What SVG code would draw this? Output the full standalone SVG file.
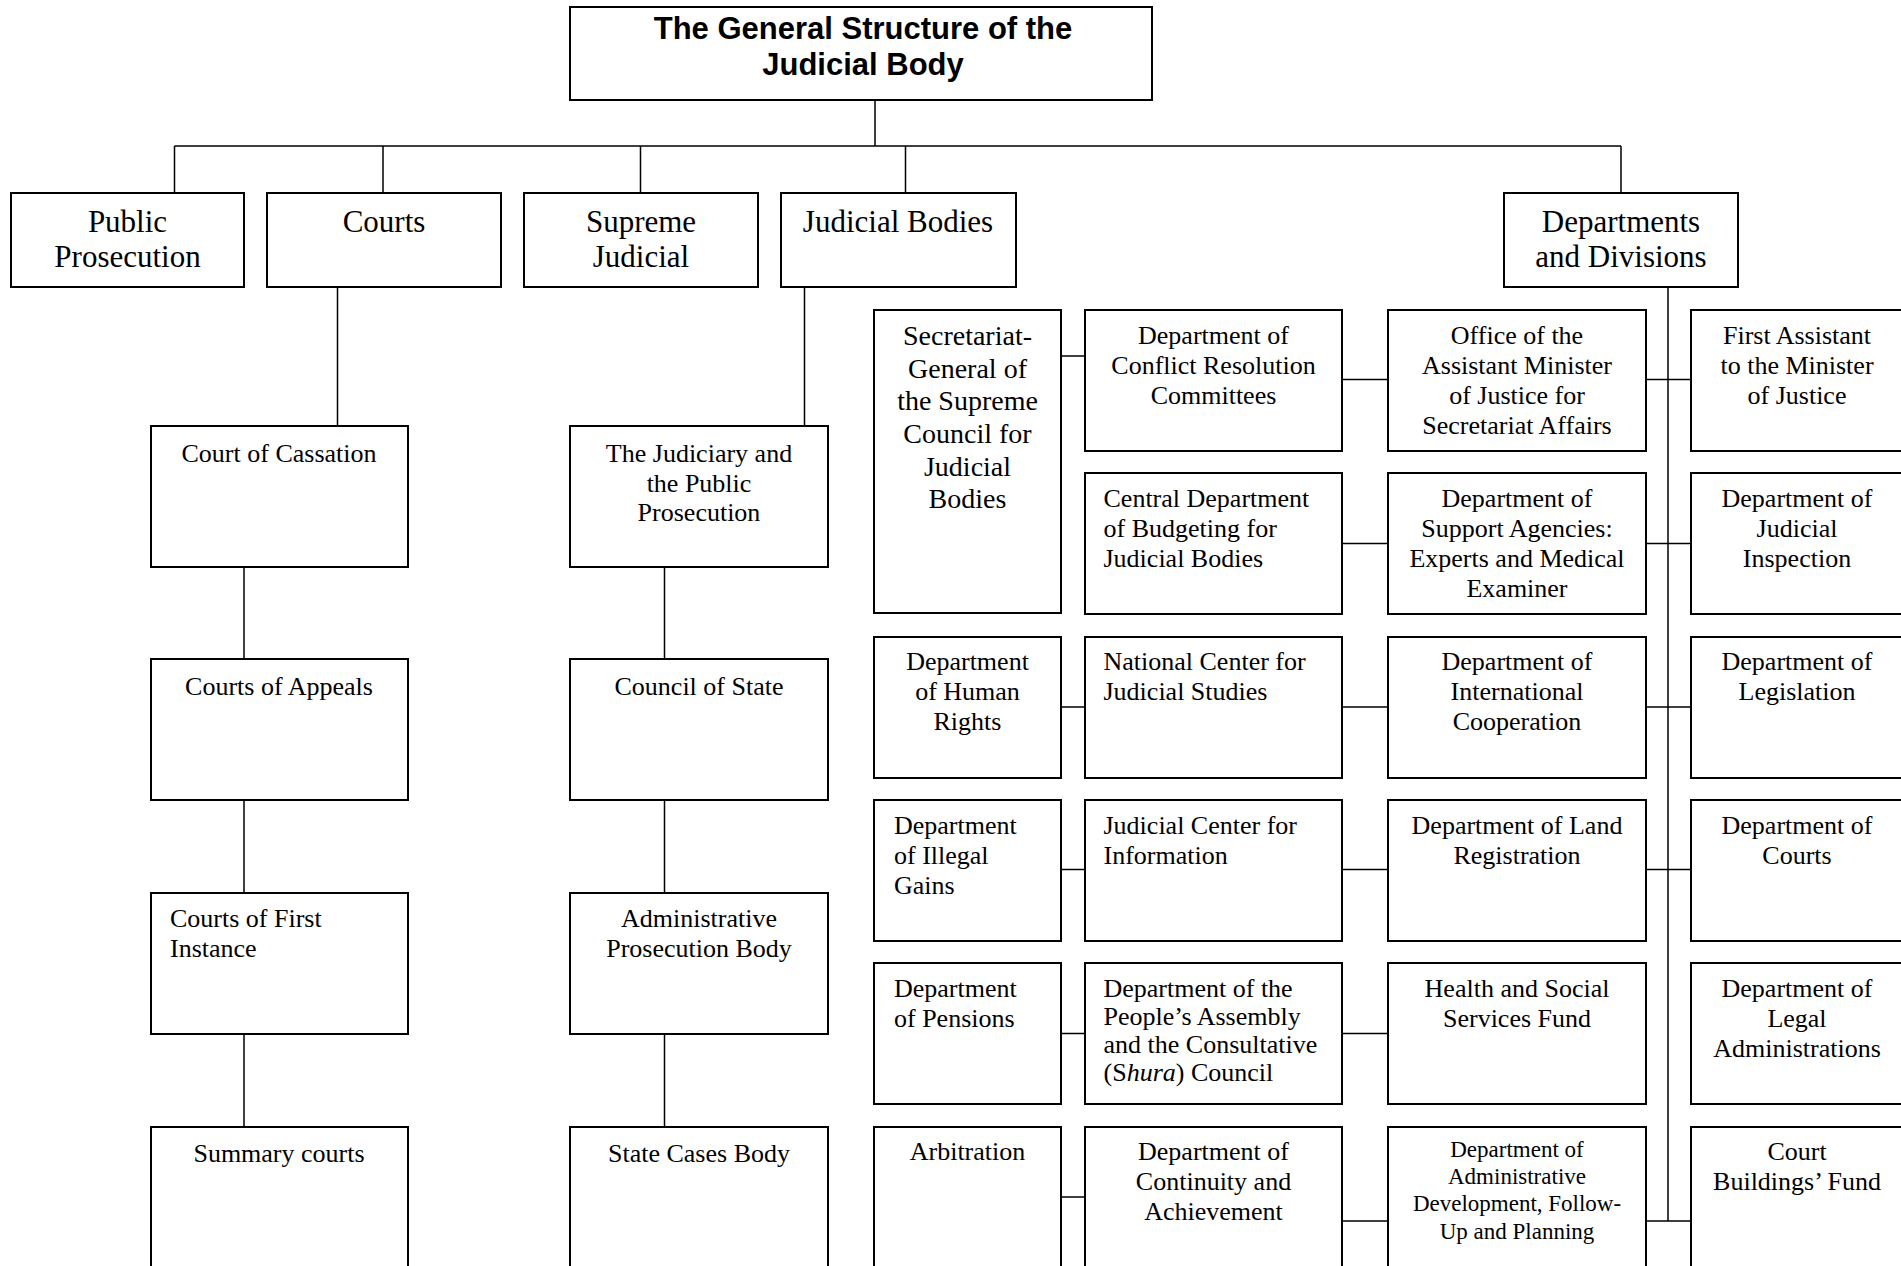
<svg xmlns="http://www.w3.org/2000/svg" width="1901" height="1266" viewBox="0 0 1901 1266">
<style>
.box{fill:#fff;stroke:#000;stroke-width:2}
.ln{fill:none;stroke:#000;stroke-width:1.5}
text{font-family:"Liberation Serif","Times New Roman",serif;font-size:26px;fill:#000}
.c{text-anchor:middle}
.l1{font-size:31px}
.sec{font-size:28px}
.sm{font-size:23px}
.title{font-family:"Liberation Sans",Arial,sans-serif;font-weight:bold;font-size:31px;text-anchor:middle}
</style>
<rect width="1901" height="1266" fill="#fff"/>
<g id="connectors">
<path class="ln" d="M875 100V146M174.5 146H1621M174.5 146V193M383 146V193M640.5 146V193M905.5 146V193M1621 146V193"/>
<path class="ln" d="M337.5 287V426M244 567V659M244 800V893M244 1034V1127"/>
<path class="ln" d="M804.5 287V426M664.5 567V659M664.5 800V893M664.5 1034V1127"/>
<path class="ln" d="M1668 287V1221"/>
<path class="ln" d="M1061 356H1085M1342 379.5H1388M1646 379.5H1691"/>
<path class="ln" d="M1342 543.5H1388M1646 543.5H1691"/>
<path class="ln" d="M1061 707H1085M1342 707H1388M1646 707H1691"/>
<path class="ln" d="M1061 869.5H1085M1342 869.5H1388M1646 869.5H1691"/>
<path class="ln" d="M1061 1033.5H1085M1342 1033.5H1388"/>
<path class="ln" d="M1061 1197H1085M1342 1221H1388M1646 1221H1691"/>
</g>
<g id="title"><rect class="box" x="570" y="7" width="582" height="93"/>
<text class="title" x="863" y="39">The General Structure of the</text>
<text class="title" x="863" y="75">Judicial Body</text></g>
<g id="public-prosecution"><rect class="box" x="11" y="193" width="233" height="94"/>
<text class="c l1" x="127.5" y="232">Public</text><text class="c l1" x="127.5" y="267">Prosecution</text></g>
<g id="courts"><rect class="box" x="267" y="193" width="234" height="94"/>
<text class="c l1" x="384" y="232">Courts</text></g>
<g id="supreme-judicial"><rect class="box" x="524" y="193" width="234" height="94"/>
<text class="c l1" x="641" y="232">Supreme</text><text class="c l1" x="641" y="267">Judicial</text></g>
<g id="judicial-bodies"><rect class="box" x="781" y="193" width="235" height="94"/>
<text class="c l1" x="898" y="232">Judicial Bodies</text></g>
<g id="departments"><rect class="box" x="1504" y="193" width="234" height="94"/>
<text class="c l1" x="1621" y="232">Departments</text><text class="c l1" x="1621" y="267">and Divisions</text></g>

<g id="court-of-cassation"><rect class="box" x="151" y="426" width="257" height="141"/>
<text class="c" x="279" y="462">Court of Cassation</text></g>
<g id="courts-of-appeals"><rect class="box" x="151" y="659" width="257" height="141"/>
<text class="c" x="279" y="695">Courts of Appeals</text></g>
<g id="courts-first-instance"><rect class="box" x="151" y="893" width="257" height="141"/>
<text x="170" y="927">Courts of First</text><text x="170" y="957">Instance</text></g>
<g id="summary-courts"><rect class="box" x="151" y="1127" width="257" height="150"/>
<text class="c" x="279" y="1162">Summary courts</text></g>

<g id="judiciary-public-prosecution"><rect class="box" x="570" y="426" width="258" height="141"/>
<text class="c" x="699" y="462">The Judiciary and</text><text class="c" x="699" y="492">the Public</text><text class="c" x="699" y="521">Prosecution</text></g>
<g id="council-of-state"><rect class="box" x="570" y="659" width="258" height="141"/>
<text class="c" x="699" y="695">Council of State</text></g>
<g id="administrative-prosecution"><rect class="box" x="570" y="893" width="258" height="141"/>
<text class="c" x="699" y="927">Administrative</text><text class="c" x="699" y="957">Prosecution Body</text></g>
<g id="state-cases-body"><rect class="box" x="570" y="1127" width="258" height="150"/>
<text class="c" x="699" y="1162">State Cases Body</text></g>

<g id="secretariat-general"><rect class="box" x="874" y="310" width="187" height="303"/>
<text class="c sec" x="967.5" y="345">Secretariat-</text><text class="c sec" x="967.5" y="377.7">General of</text><text class="c sec" x="967.5" y="410.3">the Supreme</text><text class="c sec" x="967.5" y="443">Council for</text><text class="c sec" x="967.5" y="475.7">Judicial</text><text class="c sec" x="967.5" y="508.3">Bodies</text></g>
<g id="human-rights"><rect class="box" x="874" y="637" width="187" height="141"/>
<text class="c" x="967.5" y="670">Department</text><text class="c" x="967.5" y="700">of Human</text><text class="c" x="967.5" y="730">Rights</text></g>
<g id="illegal-gains"><rect class="box" x="874" y="800" width="187" height="141"/>
<text x="894" y="833.5">Department</text><text x="894" y="863.5">of Illegal</text><text x="894" y="893.5">Gains</text></g>
<g id="pensions"><rect class="box" x="874" y="963" width="187" height="141"/>
<text x="894" y="997">Department</text><text x="894" y="1027">of Pensions</text></g>
<g id="arbitration"><rect class="box" x="874" y="1127" width="187" height="150"/>
<text class="c" x="967.5" y="1160">Arbitration</text></g>

<g id="conflict-resolution"><rect class="box" x="1085" y="310" width="257" height="141"/>
<text class="c" x="1213.5" y="343.5">Department of</text><text class="c" x="1213.5" y="373.5">Conflict Resolution</text><text class="c" x="1213.5" y="403.5">Committees</text></g>
<g id="budgeting"><rect class="box" x="1085" y="473" width="257" height="141"/>
<text x="1103.5" y="507">Central Department</text><text x="1103.5" y="537">of Budgeting for</text><text x="1103.5" y="567">Judicial Bodies</text></g>
<g id="national-center"><rect class="box" x="1085" y="637" width="257" height="141"/>
<text x="1103.5" y="670">National Center for</text><text x="1103.5" y="700">Judicial Studies</text></g>
<g id="judicial-center-information"><rect class="box" x="1085" y="800" width="257" height="141"/>
<text x="1103.5" y="833.5">Judicial Center for</text><text x="1103.5" y="863.5">Information</text></g>
<g id="peoples-assembly"><rect class="box" x="1085" y="963" width="257" height="141"/>
<text x="1103.5" y="997">Department of the</text><text x="1103.5" y="1025">People’s Assembly</text><text x="1103.5" y="1053">and the Consultative</text><text x="1103.5" y="1081">(S<tspan font-style="italic">hura</tspan>) Council</text></g>
<g id="continuity"><rect class="box" x="1085" y="1127" width="257" height="150"/>
<text class="c" x="1213.5" y="1160">Department of</text><text class="c" x="1213.5" y="1190">Continuity and</text><text class="c" x="1213.5" y="1220">Achievement</text></g>

<g id="assistant-minister-office"><rect class="box" x="1388" y="310" width="258" height="141"/>
<text class="c" x="1517" y="343.5">Office of the</text><text class="c" x="1517" y="373.5">Assistant Minister</text><text class="c" x="1517" y="403.5">of Justice for</text><text class="c" x="1517" y="433.5">Secretariat Affairs</text></g>
<g id="support-agencies"><rect class="box" x="1388" y="473" width="258" height="141"/>
<text class="c" x="1517" y="507">Department of</text><text class="c" x="1517" y="537">Support Agencies:</text><text class="c" x="1517" y="567">Experts and Medical</text><text class="c" x="1517" y="597">Examiner</text></g>
<g id="international-cooperation"><rect class="box" x="1388" y="637" width="258" height="141"/>
<text class="c" x="1517" y="670">Department of</text><text class="c" x="1517" y="700">International</text><text class="c" x="1517" y="730">Cooperation</text></g>
<g id="land-registration"><rect class="box" x="1388" y="800" width="258" height="141"/>
<text class="c" x="1517" y="833.5">Department of Land</text><text class="c" x="1517" y="863.5">Registration</text></g>
<g id="health-social"><rect class="box" x="1388" y="963" width="258" height="141"/>
<text class="c" x="1517" y="997">Health and Social</text><text class="c" x="1517" y="1027">Services Fund</text></g>
<g id="administrative-development"><rect class="box" x="1388" y="1127" width="258" height="150"/>
<text class="c sm" x="1517" y="1157">Department of</text><text class="c sm" x="1517" y="1184">Administrative</text><text class="c sm" x="1517" y="1211">Development, Follow-</text><text class="c sm" x="1517" y="1238.5">Up and Planning</text></g>

<g id="first-assistant"><rect class="box" x="1691" y="310" width="216" height="141"/>
<text class="c" x="1797" y="343.5">First Assistant</text><text class="c" x="1797" y="373.5">to the Minister</text><text class="c" x="1797" y="403.5">of Justice</text></g>
<g id="judicial-inspection"><rect class="box" x="1691" y="473" width="216" height="141"/>
<text class="c" x="1797" y="507">Department of</text><text class="c" x="1797" y="537">Judicial</text><text class="c" x="1797" y="567">Inspection</text></g>
<g id="legislation"><rect class="box" x="1691" y="637" width="216" height="141"/>
<text class="c" x="1797" y="670">Department of</text><text class="c" x="1797" y="700">Legislation</text></g>
<g id="department-of-courts"><rect class="box" x="1691" y="800" width="216" height="141"/>
<text class="c" x="1797" y="833.5">Department of</text><text class="c" x="1797" y="863.5">Courts</text></g>
<g id="legal-administrations"><rect class="box" x="1691" y="963" width="216" height="141"/>
<text class="c" x="1797" y="997">Department of</text><text class="c" x="1797" y="1027">Legal</text><text class="c" x="1797" y="1057">Administrations</text></g>
<g id="court-buildings-fund"><rect class="box" x="1691" y="1127" width="216" height="150"/>
<text class="c" x="1797" y="1160">Court</text><text class="c" x="1797" y="1190">Buildings’ Fund</text></g>
</svg>
